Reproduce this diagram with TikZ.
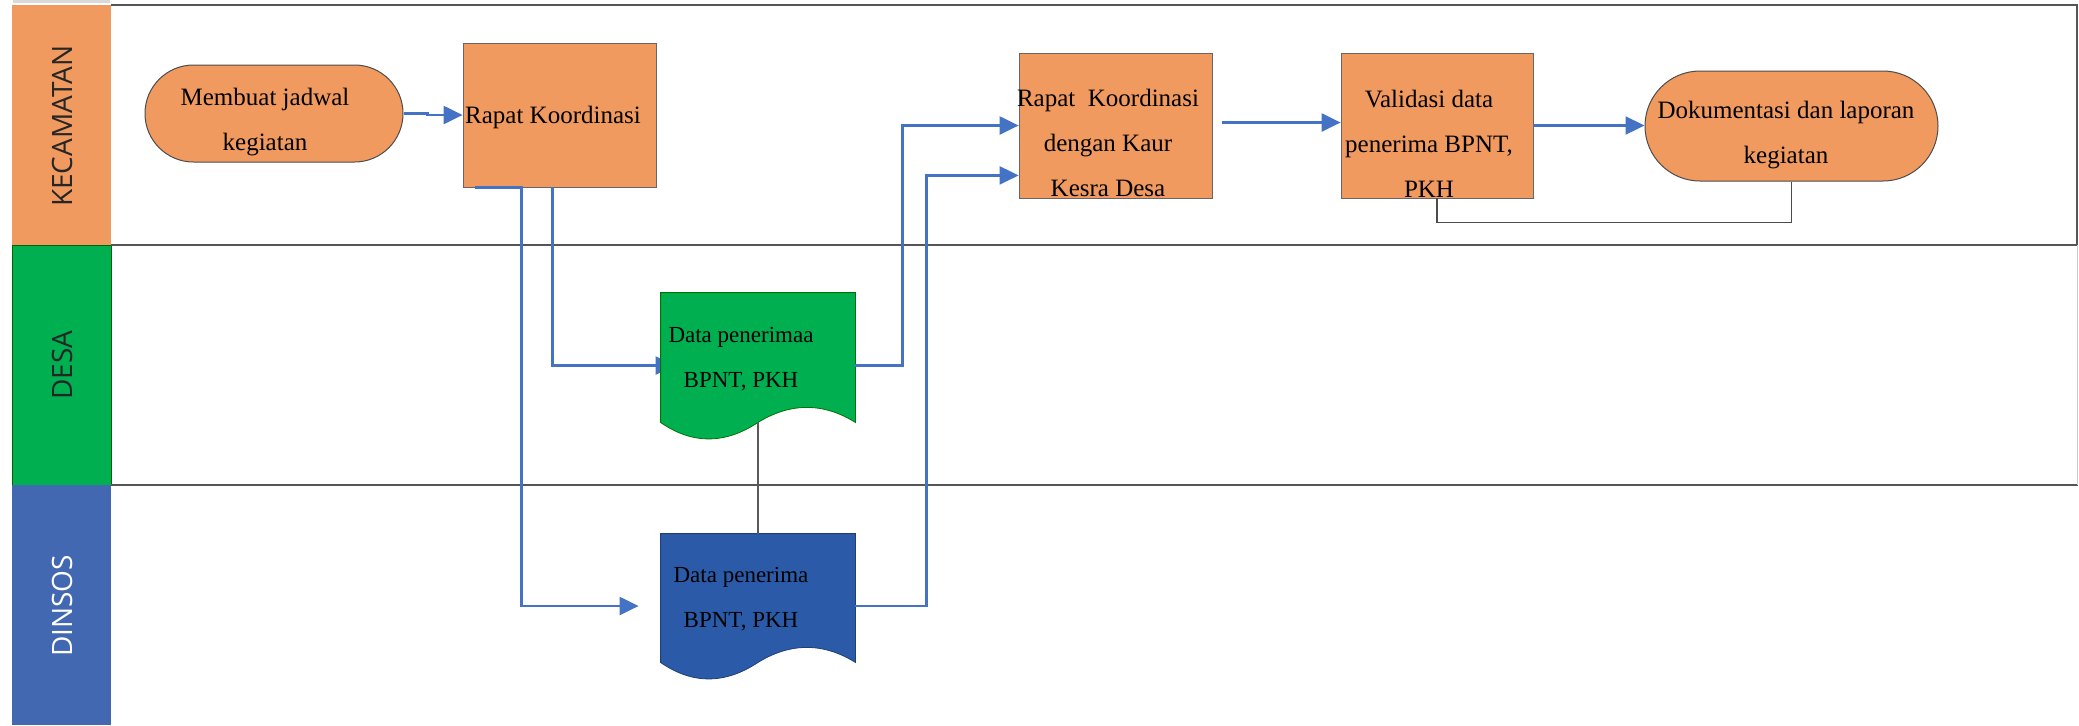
\documentclass[tikz,border=0pt]{standalone}
\usepackage{fontspec}
\setmainfont{Liberation Serif}
\newfontfamily\hdrfont{Open Sans}
\usetikzlibrary{arrows.meta,calc}
\definecolor{orng}{RGB}{241,154,96}
\definecolor{grn}{RGB}{0,176,80}
\definecolor{hblue}{RGB}{66,104,178}
\definecolor{dblue}{RGB}{43,91,168}
\definecolor{fblue}{RGB}{68,114,196}
\definecolor{laneline}{RGB}{85,85,85}
\begin{document}
\begin{tikzpicture}[x=0.5pt,y=-0.5pt,
  lane/.style={draw=laneline,line width=1.1pt},
  procbox/.style={rectangle,fill=orng,draw=gray!80!black,line width=0.4pt,inner sep=0pt},
  termbox/.style={rectangle,rounded corners=#1,fill=orng,draw=black!70,line width=0.5pt,inner sep=0pt},
  invis/.style={rectangle,inner sep=0pt,draw=none},
  txt/.style={align=center,inner sep=0pt,font=\fontsize{12.5}{22.5}\selectfont},
  doctxt/.style={align=center,inner sep=0pt,font=\fontsize{11.5}{22.5}\selectfont},
  hdr/.style={rotate=90,font=\hdrfont\fontsize{14}{16}\selectfont,inner sep=0pt},
  flow/.style={draw=fblue,line width=1.15pt,-{Triangle[length=9.5pt,width=9pt]}},
  thinline/.style={draw=black!70,line width=0.7pt}
]
\useasboundingbox (0,0) rectangle (2079,725);
\fill[white] (0,0) rectangle (2079,725);
\fill[black!15] (13,0) rectangle (110,3);
% lane headers
\fill[orng] (12,5) rectangle (111,245);
\fill[grn] (12,245) rectangle (111,485);
\draw[green!40!black,line width=0.5pt] (12,245) rectangle (111,485);
\fill[hblue] (12,485) rectangle (111,725);
\node[hdr,text=black!85] (hk) at (62,126) {KECAMATAN};
\node[hdr,text=black!85] (hd) at (62,365) {DESA};
\node[hdr,text=white] (hs) at (62,606) {DINSOS};
% lane lines
\draw[lane] (111,5) -- (2077,5) -- (2077,245);
\draw[lane] (111,245) -- (2078,245);
\draw[lane] (111,485) -- (2078,485);
\draw[black!20,line width=0.5pt] (2077,245) -- (2077,485);
% shapes
\node[termbox=24.25pt,minimum width=129pt,minimum height=48.5pt] (memb) at (274,113.5) {};
\node[procbox,minimum width=96.5pt,minimum height=72pt] (rapat) at (559.5,115) {};
\node[procbox,minimum width=96.5pt,minimum height=72.5pt] (kaur) at (1115.5,125.5) {};
\node[procbox,minimum width=96pt,minimum height=72.5pt] (valid) at (1437,125.5) {};
\node[termbox=27.5pt,minimum width=146.5pt,minimum height=55pt] (dok) at (1791.5,126) {};
\node[invis,minimum width=97pt,minimum height=72.5pt] (gdoc) at (758,365.5) {};
\node[invis,minimum width=97pt,minimum height=72pt] (bdoc) at (758,606) {};
% connector partly hidden under the green document
\draw[flow] ($(rapat.south west)+(90,0)$) |- ($(gdoc.west)+(14,0)$);
% documents
\filldraw[fill=grn,draw=green!45!black,line width=0.4pt] (gdoc.north west) -- (gdoc.north east) -- ($(gdoc.south east)+(0,-16)$) .. controls ($(gdoc.south east)+(-32,-36)$) and ($(gdoc.south east)+(-65,-36)$) .. ($(gdoc.south)+(0,-16)$) .. controls ($(gdoc.south)+(-33,6)$) and ($(gdoc.south)+(-66,6)$) .. ($(gdoc.south west)+(0,-16)$) -- cycle;
\filldraw[fill=dblue,draw=dblue!70!black,line width=0.4pt] (bdoc.north west) -- (bdoc.north east) -- ($(bdoc.south east)+(0,-16)$) .. controls ($(bdoc.south east)+(-32,-36)$) and ($(bdoc.south east)+(-65,-36)$) .. ($(bdoc.south)+(0,-16)$) .. controls ($(bdoc.south)+(-33,6)$) and ($(bdoc.south)+(-66,6)$) .. ($(bdoc.south west)+(0,-16)$) -- cycle;
% texts
\node[txt] (membT) at (265,122) {Membuat jadwal\\kegiatan};
\node[txt] (rapatT) at (553,117) {Rapat Koordinasi};
\node[txt] (kaurT) at (1108,143) {Rapat\ \ Koordinasi\\dengan Kaur\\Kesra Desa};
\node[txt] (validT) at (1429,144) {Validasi data\\penerima BPNT,\\PKH};
\node[txt] (dokT) at (1786,135.5) {Dokumentasi dan laporan\\kegiatan};
\node[doctxt] (gdocT) at (741,359.5) {Data penerimaa\\BPNT, PKH};
\node[doctxt] (bdocT) at (741,599.5) {Data penerima\\BPNT, PKH};
% connectors
\draw[flow] (memb.east) -- ++(24,0) |- (rapat.west);
\draw[flow] ($(rapat.south west)+(12,0)$) -- ($(rapat.south west)+(59,0)$) |- ($(bdoc.west)+(-22,0)$);
\draw[flow] (gdoc.east) -- ++(47,0) |- (kaur.west);
\draw[flow] (bdoc.east) -- ++(71,0) |- ($(kaur.south west)+(0,-23)$);
\draw[flow] ($(kaur.east)+(10,-3)$) -- ($(valid.west)+(0,-3)$);
\draw[flow] (valid.east) -- (valid.east -| dok.west);
\draw[thinline] (dok.south) -- ++(0,41) -| (valid.south);
\draw[thinline,black!65] ($(gdoc.south)+(0,-16)$) -- (bdoc.north);
\end{tikzpicture}
\end{document}
